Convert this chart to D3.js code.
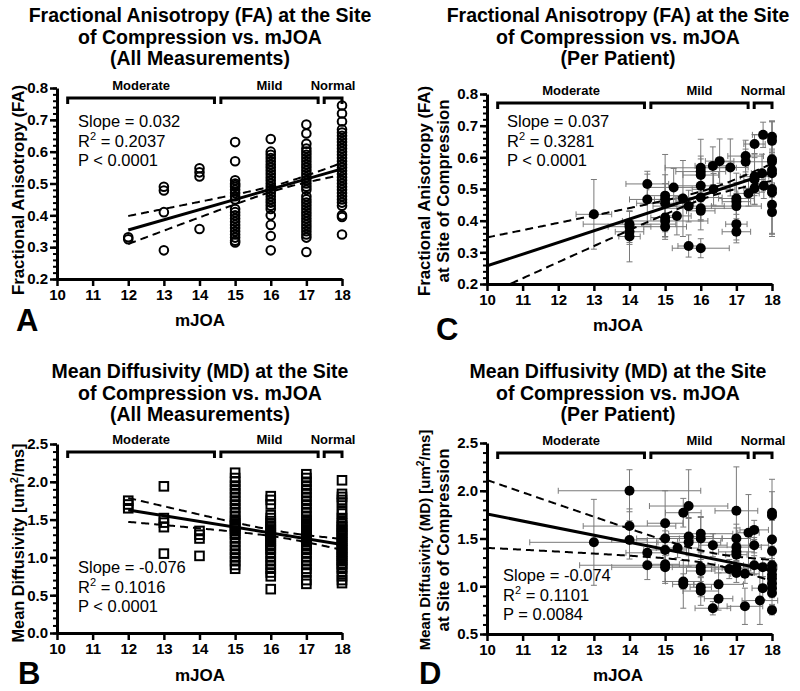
<!DOCTYPE html>
<html><head><meta charset="utf-8">
<script src="https://cdn.jsdelivr.net/npm/d3@7"></script>
<style>
body{margin:0;background:#fff;}
svg{display:block;font-family:"Liberation Sans",Arial,Helvetica,sans-serif;}
</style></head><body>
<svg id="chart" width="800" height="691"></svg>
<script>
// ---------------- DATA ----------------
const mjoaTicks = [10, 11, 12, 13, 14, 15, 16, 17, 18];
const severityLabels = ["Moderate", "Mild", "Normal"];
const severityFrom = [10.3, 14.6, 17.5];
const severityTo = [14.42, 17.33, 18.0];

const mjoaLevels = [12, 13, 14, 15, 16, 17, 18];

// Panel A: FA, all measurements (one list per mJOA level)
const faAllValues = [
  [0.331, 0.325],
  [0.49, 0.478, 0.41, 0.29],
  [0.548, 0.535, 0.522, 0.357],
  [0.63, 0.57, 0.51, 0.50, 0.495, 0.49, 0.48, 0.47, 0.46, 0.45, 0.42, 0.41, 0.40, 0.39, 0.38, 0.37, 0.36, 0.35, 0.34, 0.33, 0.32, 0.315],
  [0.64, 0.60, 0.59, 0.58, 0.57, 0.56, 0.55, 0.54, 0.53, 0.52, 0.51, 0.50, 0.49, 0.48, 0.47, 0.46, 0.45, 0.44, 0.43, 0.42, 0.40, 0.37, 0.335, 0.29],
  [0.685, 0.657, 0.625, 0.61, 0.60, 0.59, 0.58, 0.57, 0.56, 0.55, 0.54, 0.53, 0.52, 0.51, 0.50, 0.49, 0.48, 0.46, 0.45, 0.44, 0.43, 0.42, 0.41, 0.40, 0.39, 0.38, 0.37, 0.36, 0.35, 0.34, 0.33, 0.285],
  [0.745, 0.72, 0.695, 0.67, 0.66, 0.65, 0.64, 0.63, 0.62, 0.61, 0.60, 0.59, 0.58, 0.57, 0.56, 0.55, 0.54, 0.53, 0.52, 0.51, 0.50, 0.49, 0.48, 0.47, 0.46, 0.45, 0.44, 0.43, 0.40, 0.395, 0.34]
];

// Panel B: MD, all measurements
const mdAllValues = [
  [1.75, 1.70, 1.65],
  [1.94, 1.52, 1.46, 1.40, 1.05],
  [1.35, 1.30, 1.25, 1.02],
  [2.12, 2.05, 2.0, 1.95, 1.9, 1.85, 1.8, 1.75, 1.7, 1.65, 1.6, 1.55, 1.5, 1.47, 1.45, 1.42, 1.4, 1.38, 1.35, 1.32, 1.3, 1.25, 1.2, 1.15, 1.1, 1.05, 1.0, 0.95, 0.9, 0.85],
  [1.81, 1.76, 1.70, 1.56, 1.52, 1.48, 1.45, 1.42, 1.40, 1.37, 1.35, 1.32, 1.30, 1.28, 1.25, 1.22, 1.2, 1.17, 1.15, 1.12, 1.1, 1.05, 1.0, 0.95, 0.9, 0.85, 0.8, 0.75, 0.58],
  [2.1, 2.05, 2.0, 1.95, 1.9, 1.85, 1.8, 1.75, 1.7, 1.65, 1.6, 1.55, 1.5, 1.47, 1.45, 1.42, 1.4, 1.37, 1.35, 1.32, 1.3, 1.27, 1.25, 1.22, 1.2, 1.17, 1.15, 1.12, 1.1, 1.05, 1.0, 0.95, 0.9, 0.85, 0.8, 0.7, 0.65],
  [2.02, 1.84, 1.80, 1.76, 1.72, 1.62, 1.58, 1.52, 1.48, 1.45, 1.42, 1.4, 1.37, 1.35, 1.32, 1.3, 1.28, 1.25, 1.22, 1.2, 1.17, 1.15, 1.12, 1.1, 1.07, 1.05, 1.02, 1.0, 0.97, 0.95, 0.92, 0.9, 0.87, 0.85, 0.8, 0.75, 0.7, 0.66]
];

// Panel C: FA per patient (mean mJOA, mean FA, SDs)
const faPtMjoa = [13.0, 14.0, 14.0, 14.0, 14.0, 14.5, 14.5, 15.0, 15.0, 15.0, 15.0, 15.0, 15.0, 15.24, 15.33, 15.5, 15.66, 15.66, 16.0, 16.0, 16.0, 16.0, 16.0, 16.0, 16.0, 16.0, 16.36, 16.34, 16.53, 16.83, 17.0, 17.0, 17.0, 17.0, 17.0, 17.26, 17.26, 17.34, 17.51, 17.51, 17.51, 17.51, 17.72, 17.75, 17.77, 18, 18, 18, 18, 18, 18, 18, 18, 18, 18];
const faPtFA   = [0.42, 0.389, 0.381, 0.365, 0.35, 0.516, 0.467, 0.479, 0.467, 0.455, 0.41, 0.399, 0.381, 0.505, 0.415, 0.47, 0.446, 0.32, 0.567, 0.555, 0.544, 0.51, 0.473, 0.439, 0.431, 0.313, 0.499, 0.573, 0.588, 0.568, 0.47, 0.46, 0.446, 0.389, 0.365, 0.604, 0.586, 0.486, 0.642, 0.539, 0.53, 0.502, 0.55, 0.671, 0.51, 0.665, 0.652, 0.594, 0.586, 0.56, 0.55, 0.5, 0.489, 0.45, 0.427];
const faPtMjoaSD = [0.5, 1.3, 0.6, 0.4, 0.3, 0.6, 0.5, 0.5, 0.3, 0.8, 0.4, 1.2, 0.6, 0.7, 0.4, 0.5, 1.0, 0.3, 1.0, 0.7, 0.5, 0.8, 0.6, 1.0, 0.4, 0.8, 0.6, 0.5, 0.4, 0.5, 0.5, 0.4, 0.7, 0.3, 0.4, 0.5, 0.8, 0.3, 0.3, 0.4, 0.3, 0.3, 0.3, 0.3, 0.3, 0, 0, 0, 0, 0, 0, 0, 0, 0, 0];
const faPtFASD   = [0.11, 0.04, 0.05, 0.04, 0.08, 0.04, 0.08, 0.13, 0.05, 0.09, 0.06, 0.05, 0.04, 0.06, 0.06, 0.12, 0.05, 0.035, 0.09, 0.04, 0.06, 0.05, 0.07, 0.04, 0.06, 0.03, 0.05, 0.06, 0.07, 0.09, 0.05, 0.09, 0.04, 0.05, 0.035, 0.05, 0.04, 0.04, 0.03, 0.06, 0.08, 0.05, 0.06, 0.04, 0.04, 0.05, 0.06, 0.12, 0.04, 0.05, 0.07, 0.15, 0.03, 0.09, 0.07];

// Panel D: MD per patient
const mdPtMjoa = [13.0, 14.0, 14.0, 14.0, 14.5, 14.5, 15.0, 15.0, 15.0, 15.0, 15.0, 15.35, 15.51, 15.51, 15.51, 15.66, 15.66, 15.66, 16.0, 16.0, 16.0, 16.0, 16.0, 16.0, 16.34, 16.5, 16.5, 16.34, 16.8, 17.0, 17.0, 17.0, 17.0, 17.0, 17.0, 17.0, 17.24, 17.24, 17.34, 17.5, 17.5, 17.5, 17.74, 17.74, 17.66, 18, 18, 18, 18, 18, 18, 18, 18, 18, 18, 18, 18];
const mdPtMD   = [1.46, 2.0, 1.63, 1.485, 1.35, 1.22, 1.66, 1.50, 1.38, 1.23, 1.20, 1.40, 1.77, 1.05, 1.02, 1.84, 1.52, 1.46, 1.55, 1.50, 1.20, 1.16, 0.99, 0.95, 1.43, 1.02, 0.87, 0.77, 1.18, 1.79, 1.50, 1.41, 1.36, 1.33, 1.19, 1.14, 1.13, 0.79, 1.56, 1.59, 1.43, 1.22, 1.20, 0.98, 0.85, 1.77, 1.74, 1.49, 1.37, 1.22, 1.17, 1.12, 1.08, 1.03, 0.98, 0.93, 0.75];
const mdPtMjoaSD = [1.8, 2.0, 1.3, 0.5, 0.6, 1.9, 0.5, 0.8, 0.6, 0.4, 1.5, 0.6, 0.5, 0.5, 0.3, 1.1, 0.7, 0.9, 0.9, 0.6, 0.8, 0.4, 0.3, 0.5, 0.4, 0.7, 0.4, 0.5, 0.5, 0.6, 0.4, 0.7, 0.5, 0.3, 0.4, 0.5, 0.4, 0.5, 0.3, 0.4, 0.4, 0.3, 0.4, 0.3, 0.5, 0, 0, 0, 0, 0, 0, 0, 0, 0, 0, 0, 0];
const mdPtMDSD   = [0.45, 0.22, 0.18, 0.2, 0.15, 0.15, 0.34, 0.12, 0.2, 0.2, 0.15, 0.1, 0.15, 0.08, 0.25, 0.38, 0.2, 0.25, 0.18, 0.22, 0.15, 0.2, 0.1, 0.15, 0.12, 0.12, 0.12, 0.07, 0.1, 0.46, 0.15, 0.2, 0.1, 0.12, 0.08, 0.1, 0.1, 0.19, 0.4, 0.1, 0.08, 0.1, 0.1, 0.12, 0.25, 0.35, 0.25, 0.2, 0.1, 0.1, 0.08, 0.15, 0.1, 0.08, 0.1, 0.12, 0.05];

// Regression fits: [intercept, slope], 95% CI band [xMean, minHalfWidth, curvature], x range
const faAllFit = [-0.030, 0.032]; const faAllBand = [16.3, 0.008, 0.0001012]; const faAllRange = [12, 18];
const mdAllFit = [2.54, -0.076];  const mdAllBand = [16.3, 0.04, 0.001266];   const mdAllRange = [12, 18];
const faPtFit  = [-0.113, 0.037]; const faPtBand  = [16.3, 0.0122, 0.0002003]; const faPtRange = [10, 18];
const mdPtFit  = [2.497, -0.074]; const mdPtBand  = [16.3, 0.06, 0.003084];   const mdPtRange = [10, 18];

const faAllStats = ["Slope = 0.032", "0.2037", "P < 0.0001"];
const mdAllStats = ["Slope = -0.076", "0.1016", "P < 0.0001"];
const faPtStats  = ["Slope = 0.037", "0.3281", "P < 0.0001"];
const mdPtStats  = ["Slope = -0.074", "0.1101", "P = 0.0084"];

// ---------------- DRAWING ----------------
const svg = d3.select("#chart");
svg.append("rect").attr("width", 800).attr("height", 691).attr("fill", "#fff");

let clipId = 0;
function panel(o) {
  const g = svg.append("g");
  const x = d3.scaleLinear().domain([10, 18]).range([o.left, o.right]);
  const y = d3.scaleLinear().domain(o.yDomain).range([o.bottom, o.top]);
  const cid = "clip" + (clipId++);
  svg.append("clipPath").attr("id", cid).append("rect")
    .attr("x", o.left).attr("y", o.top).attr("width", o.right - o.left + 2).attr("height", o.bottom - o.top);

  // title
  o.title.forEach((t, i) => {
    g.append("text").attr("x", o.titleX).attr("y", o.titleY + i * 21.5)
      .attr("text-anchor", "middle").attr("font-size", 19.5).attr("font-weight", "bold").text(t);
  });

  // y label lines
  o.yLabel.forEach((parts, i) => {
    const t = g.append("text")
      .attr("transform", `translate(${o.yLabelX[i]},${o.yLabelY}) rotate(-90)`)
      .attr("text-anchor", "middle").attr("font-size", o.yLabelSize[i]).attr("font-weight", "bold");
    parts.forEach(p => {
      if (p.sup) t.append("tspan").attr("dy", -6).attr("font-size", o.yLabelSize[i] * 0.68).text(p.t);
      else if (p.after) t.append("tspan").attr("dy", 6).text(p.t);
      else t.append("tspan").text(p.t);
    });
  });

  // minor y ticks
  g.append("g").attr("transform", `translate(${o.left},0)`)
    .call(d3.axisLeft(y).tickValues(o.minorTicks).tickSize(4).tickFormat(""))
    .call(s => s.select(".domain").remove())
    .call(s => s.selectAll("line").attr("stroke", "#000").attr("stroke-width", 2));
  // major y
  const ya = g.append("g").attr("transform", `translate(${o.left},0)`)
    .call(d3.axisLeft(y).tickValues(o.majorTicks).tickSize(7).tickSizeOuter(0).tickPadding(2).tickFormat(d3.format(".1f")));
  ya.select(".domain").attr("stroke", "#000").attr("stroke-width", 3);
  ya.selectAll(".tick line").attr("stroke", "#000").attr("stroke-width", 2.5);
  ya.selectAll(".tick text").attr("font-size", 15).attr("font-weight", "bold")
    .attr("font-family", '"Liberation Sans",Arial,sans-serif').attr("fill", "#000");

  // x axis
  const xa = g.append("g").attr("transform", `translate(0,${o.bottom})`)
    .call(d3.axisBottom(x).tickValues(mjoaTicks).tickSize(7).tickSizeOuter(0).tickPadding(3).tickFormat(d3.format("d")));
  xa.select(".domain").attr("stroke", "#000").attr("stroke-width", 3);
  xa.selectAll(".tick line").attr("stroke", "#000").attr("stroke-width", 2.5);
  xa.selectAll(".tick text").attr("font-size", 15).attr("font-weight", "bold")
    .attr("font-family", '"Liberation Sans",Arial,sans-serif').attr("fill", "#000");

  g.append("text").attr("x", o.xLabelX).attr("y", o.xLabelY).attr("text-anchor", "middle")
    .attr("font-size", 17).attr("font-weight", "bold").text("mJOA");
  g.append("text").attr("x", o.letterX).attr("y", o.letterY)
    .attr("font-size", 31).attr("font-weight", "bold").text(o.letter);

  // severity brackets
  const by = o.top + o.bracketOffset;
  severityLabels.forEach((lab, i) => {
    const x0 = x(severityFrom[i]), x1 = x(severityTo[i]);
    g.append("path").attr("d", `M${x0},${by + 6}V${by}H${x1}V${by + 6}`)
      .attr("fill", "none").attr("stroke", "#000").attr("stroke-width", 3);
    g.append("text").attr("x", (x0 + x1) / 2).attr("y", by - 8).attr("text-anchor", "middle")
      .attr("font-size", 13).attr("font-weight", "bold").text(lab);
  });

  // stats text
  const st = g.append("g").attr("font-size", 16.5);
  st.append("text").attr("x", o.statsX).attr("y", o.statsY).text(o.stats[0]);
  const r2 = st.append("text").attr("x", o.statsX).attr("y", o.statsY + 19.5);
  r2.append("tspan").text("R");
  r2.append("tspan").attr("dy", -7).attr("font-size", 11).text("2");
  r2.append("tspan").attr("dy", 7).text(" = " + o.stats[1]);
  st.append("text").attr("x", o.statsX).attr("y", o.statsY + 38.5).text(o.stats[2]);

  const plot = g.append("g");
  const clipped = g.append("g").attr("clip-path", `url(#${cid})`);

  // error bars
  if (o.err) {
    const eb = plot.append("g").attr("stroke", "#7a7a7a").attr("stroke-width", 1).attr("fill", "none");
    o.err.mx.forEach((mx, i) => {
      const px = x(mx), py = y(o.err.my[i]);
      const sx = o.err.sx[i], sy = o.err.sy[i];
      const ya0 = y(o.err.my[i] - sy), ya1 = y(o.err.my[i] + sy);
      eb.append("path").attr("d", `M${px},${ya0}V${ya1}M${px - 3},${ya0}H${px + 3}M${px - 3},${ya1}H${px + 3}`);
      if (sx > 0) {
        const xa0 = x(mx - sx), xa1 = x(mx + sx);
        eb.append("path").attr("d", `M${xa0},${py}H${xa1}M${xa0},${py - 3}V${py + 3}M${xa1},${py - 3}V${py + 3}`);
      }
    });
  }

  // points (all-measurement panels: open markers)
  if (o.groups) {
    const pg = plot.append("g").attr("fill", "none").attr("stroke", "#000").attr("stroke-width", 2);
    o.groups.forEach((vals, gi) => {
      vals.forEach(v => {
        if (o.marker === "circle") pg.append("circle").attr("cx", x(mjoaLevels[gi])).attr("cy", y(v)).attr("r", 4.3);
        else pg.append("rect").attr("x", x(mjoaLevels[gi]) - 4.3).attr("y", y(v) - 4.3).attr("width", 8.6).attr("height", 8.6);
      });
    });
  }

  // regression line + CI band
  const [b0, b1] = o.fit, [xm, h0, k] = o.band;
  const xs = d3.range(o.range[0], o.range[1] + 0.0001, 0.05);
  const hw = xv => Math.sqrt(h0 * h0 + k * (xv - xm) * (xv - xm));
  const line = d3.line().x(d => x(d[0])).y(d => y(d[1]));
  clipped.append("path").attr("d", line(xs.map(v => [v, b0 + b1 * v + hw(v)])))
    .attr("fill", "none").attr("stroke", "#000").attr("stroke-width", 2).attr("stroke-dasharray", "8,5");
  clipped.append("path").attr("d", line(xs.map(v => [v, b0 + b1 * v - hw(v)])))
    .attr("fill", "none").attr("stroke", "#000").attr("stroke-width", 2).attr("stroke-dasharray", "8,5");
  clipped.append("path").attr("d", line(o.range.map(v => [v, b0 + b1 * v])))
    .attr("fill", "none").attr("stroke", "#000").attr("stroke-width", 3);

  // filled points (per patient)
  if (o.err) {
    const pg = g.append("g").attr("fill", "#000");
    o.err.mx.forEach((mx, i) => pg.append("circle").attr("cx", x(mx)).attr("cy", y(o.err.my[i])).attr("r", 5));
  }
}

const ticksRange = (a, b, s) => d3.range(Math.round(a / s), Math.round(b / s) + 1).map(i => +(i * s).toFixed(3));

panel({
  left: 57, right: 342, top: 88, bottom: 279, yDomain: [0.2, 0.8],
  majorTicks: ticksRange(0.2, 0.8, 0.1), minorTicks: ticksRange(0.2, 0.8, 0.02),
  title: ["Fractional Anisotropy (FA) at the Site", "of Compression vs. mJOA", "(All Measurements)"],
  titleX: 200, titleY: 22,
  yLabel: [[{t: "Fractional Anisotropy (FA)"}]], yLabelX: [24], yLabelY: 190, yLabelSize: [16.8],
  xLabelX: 200, xLabelY: 326, letter: "A", letterX: 16, letterY: 331,
  bracketOffset: 10, stats: faAllStats, statsX: 78, statsY: 127,
  groups: faAllValues, marker: "circle", fit: faAllFit, band: faAllBand, range: faAllRange
});
panel({
  left: 57, right: 342, top: 444, bottom: 633, yDomain: [0, 2.5],
  majorTicks: ticksRange(0, 2.5, 0.5), minorTicks: ticksRange(0, 2.5, 0.1),
  title: ["Mean Diffusivity (MD) at the Site", "of Compression vs. mJOA", "(All Measurements)"],
  titleX: 200, titleY: 378,
  yLabel: [[{t: "Mean Diffusivity [um"}, {t: "2", sup: true}, {t: "/ms]", after: true}]], yLabelX: [24], yLabelY: 543, yLabelSize: [16.3],
  xLabelX: 200, xLabelY: 681, letter: "B", letterX: 18, letterY: 684,
  bracketOffset: 8, stats: mdAllStats, statsX: 78, statsY: 573,
  groups: mdAllValues, marker: "square", fit: mdAllFit, band: mdAllBand, range: mdAllRange
});
panel({
  left: 487, right: 772, top: 94, bottom: 284, yDomain: [0.2, 0.8],
  majorTicks: ticksRange(0.2, 0.8, 0.1), minorTicks: ticksRange(0.2, 0.8, 0.02),
  title: ["Fractional Anisotropy (FA) at the Site", "of Compression vs. mJOA", "(Per Patient)"],
  titleX: 618, titleY: 22,
  yLabel: [[{t: "Fractional Anisotropy (FA)"}], [{t: "at Site of Compression"}]], yLabelX: [430, 449], yLabelY: 191, yLabelSize: [16.8, 16.8],
  xLabelX: 618, xLabelY: 331, letter: "C", letterX: 436, letterY: 340,
  bracketOffset: 9, stats: faPtStats, statsX: 507, statsY: 127,
  err: {mx: faPtMjoa, my: faPtFA, sx: faPtMjoaSD, sy: faPtFASD},
  fit: faPtFit, band: faPtBand, range: faPtRange
});
panel({
  left: 487, right: 772, top: 443, bottom: 634, yDomain: [0.5, 2.5],
  majorTicks: ticksRange(0.5, 2.5, 0.5), minorTicks: ticksRange(0.5, 2.5, 0.1),
  title: ["Mean Diffusivity (MD) at the Site", "of Compression vs. mJOA", "(Per Patient)"],
  titleX: 618, titleY: 378,
  yLabel: [[{t: "Mean Diffusivity (MD) [um"}, {t: "2", sup: true}, {t: "/ms]", after: true}], [{t: "at Site of Compression"}]], yLabelX: [430, 449], yLabelY: 540, yLabelSize: [15, 16.8],
  xLabelX: 618, xLabelY: 681, letter: "D", letterX: 419, letterY: 684,
  bracketOffset: 10, stats: mdPtStats, statsX: 503, statsY: 581,
  err: {mx: mdPtMjoa, my: mdPtMD, sx: mdPtMjoaSD, sy: mdPtMDSD},
  fit: mdPtFit, band: mdPtBand, range: mdPtRange
});
</script>
</body></html>
